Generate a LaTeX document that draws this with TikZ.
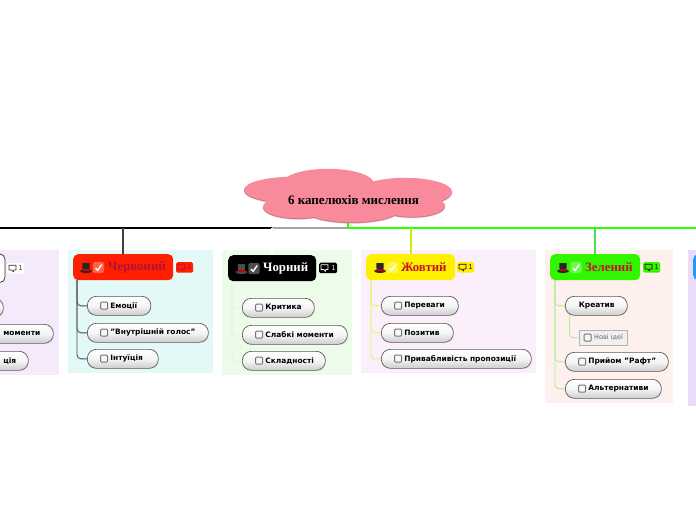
\documentclass[tikz,border=0pt]{standalone}
\usepackage{fontspec}
\setmainfont{Liberation Serif}
\setsansfont{DejaVu Sans}
\definecolor{cloudc}{RGB}{249,138,156}
\definecolor{cloudsh}{RGB}{200,112,128}
\definecolor{cloudsl}{RGB}{232,205,210}
\definecolor{redc}{RGB}{255,30,0}
\definecolor{redt}{RGB}{176,18,60}
\definecolor{yelc}{RGB}{255,240,0}
\definecolor{grnc}{RGB}{50,245,0}
\definecolor{warmt}{RGB}{200,16,46}
\definecolor{bluc}{RGB}{30,155,255}
\definecolor{mainG}{RGB}{40,255,0}
\definecolor{brY}{RGB}{200,240,0}
\definecolor{brG}{RGB}{70,225,70}
\definecolor{coY}{RGB}{235,240,110}
\definecolor{coG}{RGB}{170,240,140}
\definecolor{coK}{RGB}{225,248,220}
\definecolor{pL}{RGB}{245,234,251}
\definecolor{pR}{RGB}{227,249,247}
\definecolor{pK}{RGB}{237,252,233}
\definecolor{pY}{RGB}{251,239,252}
\definecolor{pG}{RGB}{254,240,236}
\definecolor{pB}{RGB}{234,220,248}
\tikzset{
  panel/.style={draw=none,inner sep=0pt,anchor=north west},
  topic/.style={rounded corners=5pt,inner sep=0pt,anchor=north west,font=\rmfamily\bfseries\fontsize{12.8}{14}\selectfont},
  pill/.style={draw=black!65,rounded corners=9pt,line width=0.7pt,top color=white,bottom color=black!20,middle color=black!4,inner sep=0pt,anchor=north west,font=\sffamily\bfseries\fontsize{7.45}{8}\selectfont,text=black},
  cbox/.style={draw=black!55,fill=black!3,rounded corners=1pt,line width=0.8pt},
  main/.style={line width=1.5pt},
  branch/.style={line width=1.4pt},
  conn/.style={line width=0.9pt,rounded corners=4pt},
  cmtbox/.style={rounded corners=1.5pt,minimum height=10.5pt,inner sep=0pt,anchor=north west,font=\sffamily\fontsize{6.5}{7}\selectfont},
}
% name, x1, y1, x2, y2, text offset, text
\newcommand{\pillnode}[7]{%
  \pgfmathsetmacro{\pw}{#4-(#2)}\pgfmathsetmacro{\ph}{#5-(#3)}%
  \node[pill,minimum width=\pw pt,minimum height=\ph pt] (#1) at (#2,#3) {\makebox[\pw pt][l]{\hspace{#6pt}\raisebox{-0.5pt}{#7}}};}
\newcommand{\panelbox}[6]{%
  \pgfmathsetmacro{\pw}{#4-(#2)}\pgfmathsetmacro{\ph}{#5-(#3)}%
  \node[panel,fill=#6,minimum width=\pw pt,minimum height=\ph pt] (#1) at (#2,#3) {};}
% name, x1, y1, x2, y2, fill, text colour, text
\newcommand{\topicnode}[8]{%
  \pgfmathsetmacro{\pw}{#4-(#2)}\pgfmathsetmacro{\ph}{#5-(#3)}%
  \node[topic,fill=#6,text=#7,minimum width=\pw pt,minimum height=\ph pt] (#1) at (#2,#3) {\makebox[\pw pt][l]{\hspace{35pt}#8}};}
\newcommand{\checkbx}[2]{\draw[cbox] (#1-3.4,#2-3.4) rectangle (#1+3.6,#2+3.6);}
\newcommand{\hatico}[3]{%
  \fill[#3] (#1-3.4,#2+3) -- (#1-3.7,#2-4.5) -- (#1+3.7,#2-4.5) -- (#1+3.4,#2+3) -- cycle;
  \fill[#3] (#1,#2+3.6) ellipse [x radius=6,y radius=1.8];
  \fill[red!80!black] (#1-3.5,#2+1.6) rectangle (#1+3.5,#2+3.2);}
\newcommand{\chkico}[2]{%
  \fill[white,opacity=.3,rounded corners=1.5pt] (#1-5.6,#2-5.6) rectangle (#1+5.6,#2+5.6);
  \draw[white,line width=1.4pt] (#1-3,#2+.5) -- (#1-.8,#2+2.8) -- (#1+3.2,#2-3);}
\newcommand{\cmtnode}[6]{%
  \node[cmtbox,fill=#4,minimum width=#6 pt,text=#5] (#1) at (#2,#3) {\makebox[#6 pt][r]{1\hspace{1.5pt}}};
  \draw[#5,line width=.6pt,line join=round] (#2+2,#3+2.2) -- (#2+9,#3+2.2) -- (#2+9,#3+7) -- (#2+6.6,#3+7) -- (#2+6.6,#3+9) -- (#2+4.6,#3+7) -- (#2+2,#3+7) -- cycle;}
\newcommand{\cloudlobes}[2]{%
  \fill[#2] (292,190+#1) ellipse [x radius=48,y radius=13];
  \fill[#2] (405,192+#1) ellipse [x radius=47,y radius=14];
  \fill[#2] (328,184+#1) ellipse [x radius=46,y radius=15];
  \fill[#2] (348,197+#1) ellipse [x radius=70,y radius=15];
  \fill[#2] (352,209+#1) ellipse [x radius=48,y radius=13.5];
  \fill[#2] (298,207+#1) ellipse [x radius=35,y radius=11.5];
  \fill[#2] (412,206+#1) ellipse [x radius=33,y radius=11];}
\begin{document}
\begin{tikzpicture}[x=1pt,y=-1pt]
\useasboundingbox (0,0) rectangle (696,520);
\clip (0,0) rectangle (696,520);
\fill[white] (0,0) rectangle (696,520);

% panels
\panelbox{pl}{-10}{250}{59}{375}{pL}
\panelbox{pr}{68}{250}{213}{373}{pR}
\panelbox{pk}{222}{250}{352}{375}{pK}
\panelbox{py}{361}{250}{536}{373}{pY}
\panelbox{pg}{545}{250}{673}{403}{pG}
\panelbox{pb}{688}{250}{706}{406}{pB}

% cloud
\cloudlobes{1.2}{cloudsl}
\cloudlobes{0.6}{cloudsh}
\cloudlobes{-0.2}{cloudc}
\node[font=\rmfamily\bfseries\fontsize{13}{15}\selectfont,text=black,inner sep=0pt] (root) at (353.5,200.5) {6 капелюхів мислення};

% coordinates
\coordinate (hub) at (348,228);
\coordinate (leftend) at (-5,228);
\coordinate (rightend) at (701,228);
\coordinate (split) at (272,228);
\coordinate (rootstem) at (348,223);
\coordinate (rtop) at (123,228);
\coordinate (ytop) at (411,228);
\coordinate (gtop) at (595,228);
\coordinate (rstem) at (77,280);
\coordinate (kstem) at (232,281);
\coordinate (ystem) at (371,280);
\coordinate (gstem) at (555,280);
\coordinate (g1stem) at (569.5,315);

% topics
\topicnode{tl}{-30}{254}{4.5}{282}{white}{black}{}
\draw[black!75,line width=.8pt,rounded corners=5pt] (tl.north west) rectangle (tl.south east);
\topicnode{tr}{73}{254}{173}{280}{redc}{redt}{Червоний}
\topicnode{tk}{228}{255}{316}{281}{black}{white}{Чорний}
\topicnode{ty}{366}{254}{455}{280}{yelc}{warmt}{Жовтий}
\topicnode{tg}{550}{254}{640}{280}{grnc}{warmt}{Зелений}
\node[topic,fill=bluc,minimum width=30pt,minimum height=26pt] (tb) at (693,254) {};

% branches
\draw[main,black!35] (split) -- (hub);
\draw[main,black] (split) -- (leftend);
\draw[main,mainG] (rootstem) -- (hub) -- (rightend);
\draw[branch,black!75] (rtop) -- (tr.north -| rtop);
\draw[branch,white] (split) -- (tk.north -| split);
\draw[branch,brY] (ytop) -- (ty.north -| ytop);
\draw[branch,brG] (gtop) -- (tg.north -| gtop);

% pills
\pillnode{l1}{-50}{298}{3}{317}{0}{}
\pillnode{l2}{-50}{324}{53}{343}{53}{моменти}
\pillnode{l3}{-50}{351}{28}{370}{53}{ція}

\pillnode{r1}{87}{296}{150.5}{315}{23}{Емоції}
\pillnode{r2}{87}{323}{208}{342}{23}{"Внутрішній голос"}
\pillnode{r3}{87}{349}{158}{368}{23}{Інтуїція}

\pillnode{k1}{242}{298}{314}{317}{23}{Критика}
\pillnode{k2}{242}{325}{347}{344}{23}{Слабкі моменти}
\pillnode{k3}{242}{351}{325}{370}{23}{Складності}

\pillnode{y1}{381}{296}{458}{315}{23}{Переваги}
\pillnode{y2}{381}{323}{453}{342}{23}{Позитив}
\pillnode{y3}{381}{349}{531}{368}{23}{Привабливість пропозиції}

\pillnode{g1}{565}{296}{627}{315}{13.5}{Креатив}
\pillnode{g2}{565}{352}{668}{371}{23}{Прийом "Рафт"}
\pillnode{g3}{565}{379}{661}{398}{23}{Альтернативи}
\node[draw=black!30,fill=black!6,inner sep=0pt,minimum width=47.5pt,minimum height=15pt,anchor=north west,font=\sffamily\fontsize{6.5}{7}\selectfont,text=black!60] (g1a) at (579,330) {\makebox[47.5pt][l]{\hspace{15pt}Нові ідеї}};

% connectors
\draw[conn,black!70] (rstem) |- (r1.west);
\draw[conn,black!70] (rstem) |- (r2.west);
\draw[conn,black!70] (rstem) |- (r3.west);
\draw[conn,coK] (kstem) |- (k1.west);
\draw[conn,coK] (kstem) |- (k2.west);
\draw[conn,coK] (kstem) |- (k3.west);
\draw[conn,coY] (ystem) |- (y1.west);
\draw[conn,coY] (ystem) |- (y2.west);
\draw[conn,coY] (ystem) |- (y3.west);
\draw[conn,coG] (gstem) |- (g1.west);
\draw[conn,coG] (gstem) |- (g2.west);
\draw[conn,coG] (gstem) |- (g3.west);
\draw[conn,coG] (g1stem) |- (g1a.west);

% check boxes in pills
\checkbx{104}{305.5}\checkbx{104}{332.5}\checkbx{104}{358.5}
\checkbx{259}{307.5}\checkbx{259}{334.5}\checkbx{259}{360.5}
\checkbx{398}{305.5}\checkbx{398}{332.5}\checkbx{398}{358.5}
\checkbx{582}{361.5}\checkbx{582}{388.5}
\checkbx{587.5}{337.5}

% icons on topics
\hatico{86}{267.5}{black!85}\chkico{98.5}{267.5}
\hatico{241.5}{268.5}{black!70}\chkico{254}{268.5}
\hatico{380}{267.5}{black!85}\chkico{392.5}{267.5}
\hatico{563}{267.5}{black!85}\chkico{576}{267.5}

% comments
\cmtnode{cl}{7}{263}{white}{black!80}{17}
\cmtnode{cr}{176}{262}{redc}{redt}{17}
\cmtnode{ck}{319}{262.5}{black}{white}{18}
\cmtnode{cy}{457}{262}{yelc}{black!80!red}{17}
\cmtnode{cg}{643}{262}{grnc}{black!80!red}{17}
\end{tikzpicture}
\end{document}
